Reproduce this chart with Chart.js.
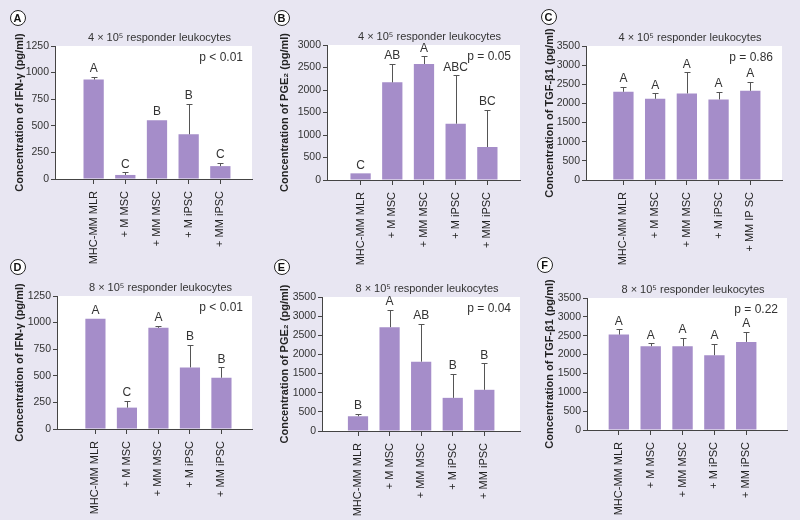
<!DOCTYPE html>
<html>
<head>
<meta charset="utf-8">
<script src="https://cdn.jsdelivr.net/npm/chart.js@4.4.1/dist/chart.umd.min.js"></script>
<style>
  body { margin: 0; background: #e8e6f2; }
  #fig { position: relative; width: 800px; height: 520px; overflow: hidden; background: #e8e6f2; }
  #fig canvas { position: absolute; }
  .tag {
    position: absolute; width: 14px; height: 14px; border: 1.5px solid #222; border-radius: 50%;
    background: #fff; color: #111; font: bold 11px "Liberation Sans", Arial, sans-serif;
    text-align: center; line-height: 14px;
  }
</style>
</head>
<body>
<div id="fig"></div>
<script>
const FONT = '"Liberation Sans", Arial, sans-serif'

// x categories
const groups = ['MHC-MM MLR', '+ M MSC', '+ MM MSC', '+ M iPSC', '+ MM iPSC']
const groupsC = ['MHC-MM MLR', '+ M MSC', '+ MM MSC', '+ M iPSC', '+ MM IP SC']

// A: IFN-gamma, 4 x 10^5
const ifn4 = [935, 38, 552, 420, 121]
const ifn4Err = [958, 63, 560, 707, 153]
const ifn4Letters = ['A', 'C', 'B', 'B', 'C']
// B: PGE2, 4 x 10^5
const pge4 = [148, 2170, 2578, 1252, 733]
const pge4Err = [150, 2578, 2748, 2326, 1563]
const pge4Letters = ['C', 'AB', 'A', 'ABC', 'BC']
// C: TGF-beta1, 4 x 10^5
const tgf4 = [2304, 2122, 2261, 2105, 2330]
const tgf4Err = [2434, 2261, 2815, 2296, 2564]
const tgf4Letters = ['A', 'A', 'A', 'A', 'A']
// D: IFN-gamma, 8 x 10^5
const ifn8 = [1036, 201, 951, 579, 482]
const ifn8Err = [1036, 264, 970, 790, 579]
const ifn8Letters = ['A', 'C', 'A', 'B', 'B']
// E: PGE2, 8 x 10^5
const pge8 = [385, 2712, 1811, 866, 1076]
const pge8Err = [446, 3167, 2791, 1487, 1767]
const pge8Letters = ['B', 'A', 'AB', 'B', 'B']
// F: TGF-beta1, 8 x 10^5
const tgf8 = [2530, 2222, 2222, 1984, 2336]
const tgf8Err = [2671, 2301, 2442, 2292, 2610]
const tgf8Letters = ['A', 'A', 'A', 'A', 'A']

const title4 = '4 × 10⁵ responder leukocytes'
const title8 = '8 × 10⁵ responder leukocytes'
const ifnTitle = 'Concentration of IFN-γ (pg/ml)'
const pgeTitle = 'Concentration of PGE₂ (pg/ml)'
const tgfTitle = 'Concentration of TGF-β1 (pg/ml)'

// panel boxes (canvas position, chart area inside it, x range)
const panels = [
  { tag: 'A', x: 0, y: 0, w: 265, h: 270, axis: 55, right: 252, top: 46, bot: 179, xmin: -0.22, xmax: 6.0,
    cats: groups, vals: ifn4, err: ifn4Err, letters: ifn4Letters, ymax: 1250, step: 250, ytitle: ifnTitle, title: title4, p: 'p < 0.01' },
  { tag: 'B', x: 265, y: 0, w: 265, h: 270, axis: 62, right: 255, top: 45, bot: 180, xmin: -0.06, xmax: 6.03,
    cats: groups, vals: pge4, err: pge4Err, letters: pge4Letters, ymax: 3000, step: 500, ytitle: pgeTitle, title: title4, p: 'p = 0.05' },
  { tag: 'C', x: 530, y: 0, w: 270, h: 270, axis: 56, right: 252, top: 46, bot: 180, xmin: -0.18, xmax: 6.0,
    cats: groupsC, vals: tgf4, err: tgf4Err, letters: tgf4Letters, ymax: 3500, step: 500, ytitle: tgfTitle, title: title4, p: 'p = 0.86' },
  { tag: 'D', x: 0, y: 255, w: 265, h: 265, axis: 57, right: 252, top: 41, bot: 174, xmin: -0.22, xmax: 5.97,
    cats: groups, vals: ifn8, err: ifn8Err, letters: ifn8Letters, ymax: 1250, step: 250, ytitle: ifnTitle, title: title8, p: 'p < 0.01' },
  { tag: 'E', x: 265, y: 255, w: 265, h: 265, axis: 57, right: 255, top: 42, bot: 176, xmin: -0.14, xmax: 6.13,
    cats: groups, vals: pge8, err: pge8Err, letters: pge8Letters, ymax: 3500, step: 500, ytitle: pgeTitle, title: title8, p: 'p = 0.04' },
  { tag: 'F', x: 530, y: 255, w: 270, h: 265, axis: 57, right: 257, top: 43, bot: 175, xmin: 0, xmax: 6.28,
    cats: groups, vals: tgf8, err: tgf8Err, letters: tgf8Letters, ymax: 3500, step: 500, ytitle: tgfTitle, title: title8, p: 'p = 0.22' },
]
const tagPos = { A: [18, 18], B: [282, 18], C: [549, 17], D: [18, 267], E: [282, 267], F: [545, 265] }

// white plot area, error bars, letters, title and p value
const extras = {
  id: 'extras',
  beforeDraw(chart) {
    const { ctx, chartArea: a } = chart
    ctx.save()
    ctx.fillStyle = '#fff'
    ctx.fillRect(a.left, a.top, a.right - a.left, a.bottom - a.top)
    ctx.restore()
  },
  afterDatasetsDraw(chart, args, opts) {
    const { ctx, chartArea: a } = chart
    const y = chart.scales.y
    const bars = chart.getDatasetMeta(0).data
    ctx.save()
    ctx.strokeStyle = '#555'
    ctx.lineWidth = 1
    ctx.fillStyle = '#333'
    ctx.font = '12px ' + FONT
    ctx.textAlign = 'center'
    ctx.textBaseline = 'bottom'
    bars.forEach((bar, i) => {
      const top = y.getPixelForValue(opts.err[i])
      const x = Math.round(bar.x) + 0.5
      if (bar.y - top > 1) {
        ctx.beginPath()
        ctx.moveTo(x, bar.y)
        ctx.lineTo(x, Math.round(top) + 0.5)
        ctx.moveTo(x - 3, Math.round(top) + 0.5)
        ctx.lineTo(x + 3, Math.round(top) + 0.5)
        ctx.stroke()
      }
      ctx.fillText(opts.letters[i], bar.x, Math.min(top, bar.y) - 2)
    })
    // panel title
    ctx.font = '11px ' + FONT
    ctx.textBaseline = 'middle'
    ctx.fillText(opts.title, (a.left + a.right) / 2 + 6, a.top - 8)
    // p value
    ctx.font = '12px ' + FONT
    ctx.textAlign = 'right'
    ctx.fillText(opts.p, a.right - 9, a.top + 12)
    ctx.restore()
  }
}

const fig = document.getElementById('fig')

panels.forEach(p => {
  const canvas = document.createElement('canvas')
  canvas.width = p.w
  canvas.height = p.h
  canvas.style.left = p.x + 'px'
  canvas.style.top = p.y + 'px'
  fig.appendChild(canvas)

  new Chart(canvas, {
    type: 'bar',
    data: {
      datasets: [{
        data: p.vals.map((v, i) => ({ x: i + 1, y: v })),
        backgroundColor: '#a58dc9',
        borderWidth: 0,
        barPercentage: 0.64,
        categoryPercentage: 1,
      }]
    },
    options: {
      responsive: false,
      animation: false,
      layout: { padding: { left: 0, top: p.top, right: p.w - p.right, bottom: 0 } },
      plugins: {
        legend: { display: false },
        tooltip: { enabled: false },
        extras: { err: p.err, letters: p.letters, title: p.title, p: p.p },
      },
      scales: {
        x: {
          type: 'linear',
          min: p.xmin,
          max: p.xmax,
          offset: false,
          afterBuildTicks: s => { s.ticks = p.cats.map((c, i) => ({ value: i + 1 })) },
          afterFit: s => { s.height = p.h - p.bot },
          grid: { display: true, drawOnChartArea: false, offset: false, tickLength: 5, color: '#444' },
          border: { color: '#444' },
          ticks: {
            autoSkip: false, minRotation: 90, maxRotation: 90, padding: 7,
            color: '#222', font: { family: FONT, size: 11 },
            callback: v => p.cats[v - 1],
          },
        },
        y: {
          min: 0,
          max: p.ymax,
          afterFit: s => { s.width = p.axis },
          grid: { display: true, drawOnChartArea: false, tickLength: 4, color: '#444' },
          border: { color: '#444' },
          ticks: {
            stepSize: p.step, padding: 2, color: '#333', font: { family: FONT, size: 10.5 },
            callback: v => String(v),
          },
          title: {
            display: true, text: p.ytitle, color: '#222',
            font: { family: FONT, size: 11, weight: 'bold' },
            padding: { top: 13, bottom: 0 },
          },
        },
      },
    },
    plugins: [extras],
  })

  const tag = document.createElement('div')
  tag.className = 'tag'
  tag.textContent = p.tag
  tag.style.left = (tagPos[p.tag][0] - 8.5) + 'px'
  tag.style.top = (tagPos[p.tag][1] - 8.5) + 'px'
  fig.appendChild(tag)
})
</script>
</body>
</html>
